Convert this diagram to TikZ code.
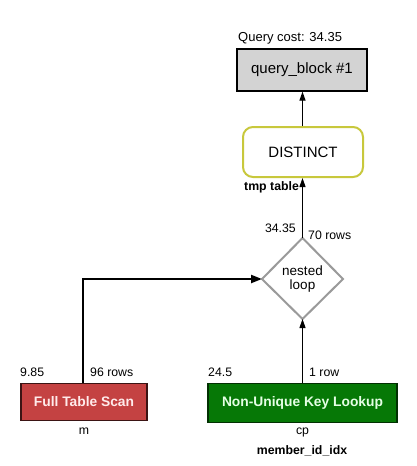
\documentclass[tikz,border=0pt]{standalone}
\usepackage{fontspec}
\setmainfont{Liberation Sans}
\usetikzlibrary{arrows.meta}
\definecolor{qgray}{HTML}{D3D3D3}
\definecolor{dyellow}{HTML}{C8C83C}
\definecolor{fred}{HTML}{C44242}
\definecolor{fgreen}{HTML}{067806}
\definecolor{dgray}{HTML}{9A9A9A}
\tikzset{
  lbl/.style={inner sep=0pt, font=\fontsize{12.3}{14}\selectfont},
  blbl/.style={inner sep=0pt, font=\fontsize{12.3}{14}\selectfont\bfseries},
  qbox/.style={draw=black, line width=1.2pt, fill=qgray, minimum width=130pt, minimum height=42pt, inner sep=0pt, font=\fontsize{15}{17}\selectfont},
  dbox/.style={draw=dyellow, line width=2pt, rounded corners=10pt, fill=white, minimum width=120pt, minimum height=50pt, inner sep=0pt, font=\fontsize{15}{17}\selectfont},
  redbox/.style={draw=black!70!fred, line width=1.2pt, fill=fred, minimum width=126pt, minimum height=37pt, inner sep=0pt, text=white!92!red, font=\fontsize{13.8}{16}\selectfont\bfseries},
  greenbox/.style={draw=black!60!fgreen, line width=1.2pt, fill=fgreen, minimum width=189pt, minimum height=39pt, inner sep=0pt, text=white!90!green, font=\fontsize{13.8}{16}\selectfont\bfseries},
  nloop/.style={draw=dgray, line width=2pt, fill=white},
  flow/.style={-{Triangle[length=9pt,width=6pt]}, line width=1.2pt},
  thick flow/.style={-{Triangle[length=11pt,width=8pt]}, line width=2.2pt},
}
\begin{document}
\begin{tikzpicture}[x=1pt,y=-1pt]
\useasboundingbox[fill=white] (0,0) rectangle (416,466);
% query block
\node[qbox] (qb) at (302,70) {query\_block \#1};
\node[lbl, anchor=west, font=\fontsize{13}{15}\selectfont] (qc) at (238,38) {Query cost: 34.35};
% distinct
\node[dbox] (dist) at (303,152) {DISTINCT};
\node[blbl, anchor=west] (tmp) at (244,187) {tmp table};
% nested loop diamond
\draw[nloop] (262,279) -- (302.5,238) -- (343,279) -- (302.5,319) -- cycle;
\node[inner sep=0pt, font=\fontsize{13.5}{14}\selectfont, align=center] (nl) at (302.5,279) {nested\\loop};
\coordinate (nlleft) at (262,279);
\coordinate (nltop) at (302.5,238);
\coordinate (nlbot) at (302.5,319);
\node[lbl, anchor=east] (c1) at (296,228) {34.35};
\node[lbl, anchor=west] (r1) at (308,235) {70 rows};
% full table scan
\node[redbox] (fts) at (84,402) {Full Table Scan};
\node[lbl, anchor=west] (c2) at (20,372) {9.85};
\node[lbl, anchor=west] (r2) at (90,372) {96 rows};
\node[lbl] (m) at (84,431) {m};
% non-unique key lookup
\node[greenbox] (nuk) at (302.5,403) {Non-Unique Key Lookup};
\node[lbl, anchor=west] (c3) at (208,372) {24.5};
\node[lbl, anchor=west] (r3) at (309,372) {1 row};
\node[lbl] (cp) at (302.5,432) {cp};
\node[blbl] (idx) at (302,451) {member\_id\_idx};
% connectors
\coordinate (corner) at (83,279);
\draw[thick flow] (fts.north -| corner) -- (corner) -- (nlleft);
\draw[flow] (nuk.north -| nlbot) -- (nlbot);
\draw[flow] (nltop) -- (nltop |- dist.south);
\draw[flow] (dist.north -| nltop) -- (nltop |- qb.south);
\end{tikzpicture}
\end{document}
